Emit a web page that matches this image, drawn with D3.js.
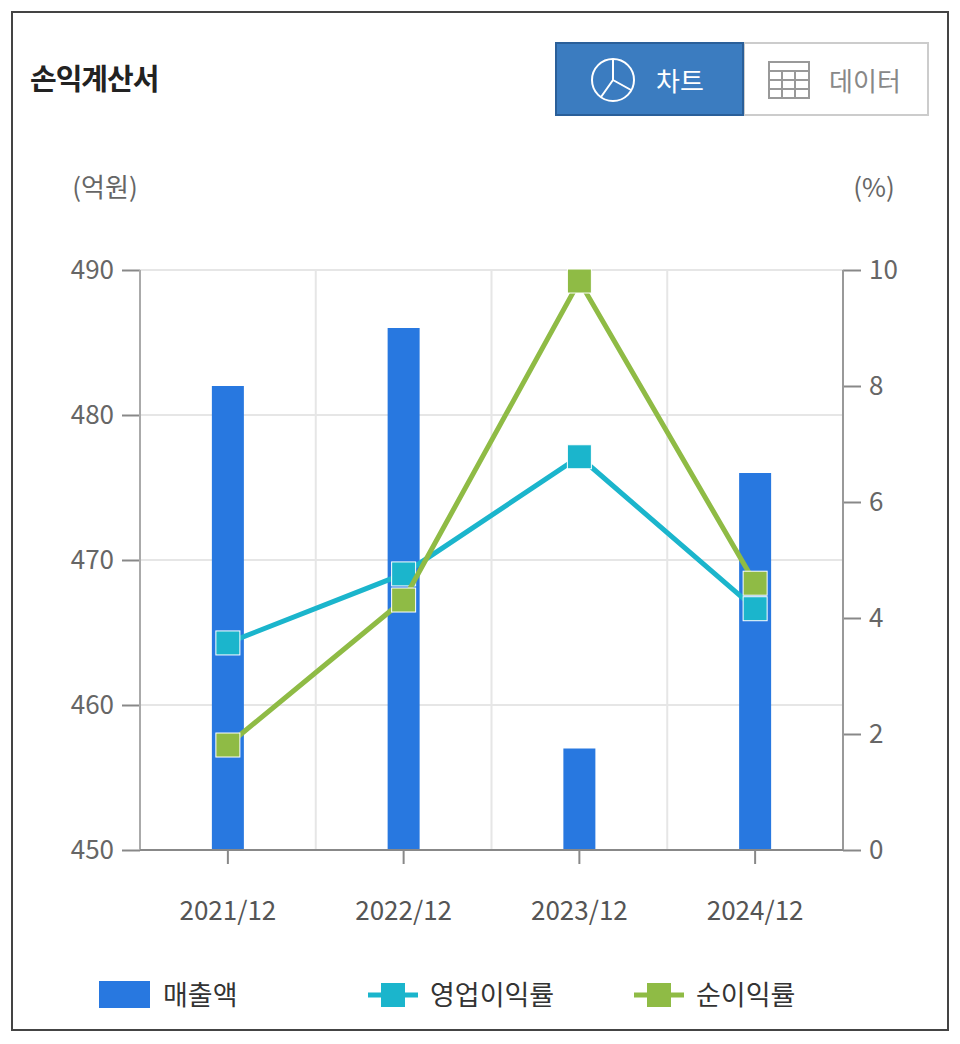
<!DOCTYPE html><html><head><meta charset="utf-8"><script src="https://cdn.jsdelivr.net/npm/d3@7"></script>
<style>body{margin:0;background:#fff;font-family:"Noto Sans CJK KR","Noto Sans",sans-serif}</style></head><body>
<svg id="c" width="960" height="1044"></svg>
<script>
const categories=["2021/12","2022/12","2023/12","2024/12"];
const sales=[482,486,457,476];
const opMargin=[3.57,4.76,6.78,4.16];
const netMargin=[1.81,4.31,9.81,4.60];
const leftTicks=[450,460,470,480,490];
const rightTicks=[0,2,4,6,8,10];
const svg=d3.select("#c");
const F='"Noto Sans CJK KR","Noto Sans",sans-serif';
svg.append("rect").attr("x",12).attr("y",12).attr("width",936).attr("height",1018).attr("fill","#fff").attr("stroke","#444").attr("stroke-width",2);
svg.append("text").attr("x",30).attr("y",90).text("손익계산서").attr("font-size",29).attr("font-weight","bold").attr("fill","#222").attr("font-family",F).attr("letter-spacing",-1);
// buttons
svg.append("rect").attr("x",744).attr("y",43).attr("width",184).attr("height",72).attr("fill","#fff").attr("stroke","#ccc").attr("stroke-width",2);
svg.append("rect").attr("x",556).attr("y",43).attr("width",187).attr("height",72).attr("fill","#3b7cc0").attr("stroke","#2a5f99").attr("stroke-width",2);
svg.append("circle").attr("cx",613).attr("cy",80).attr("r",21).attr("fill","none").attr("stroke","#fff").attr("stroke-width",2);
svg.append("path").attr("d","M613,80 L613,59 M613,80 L631,90 M613,80 L601,97").attr("stroke","#fff").attr("stroke-width",2);
svg.append("text").attr("x",680).attr("y",91).attr("text-anchor","middle").text("차트").attr("font-size",26).attr("fill","#fff").attr("font-family",F);
const g0=svg.append("g").attr("stroke","#999").attr("stroke-width",2).attr("fill","none");
g0.append("rect").attr("x",769).attr("y",62).attr("width",40).attr("height",36);
[71,80,89].forEach(y=>g0.append("line").attr("x1",769).attr("x2",809).attr("y1",y).attr("y2",y));
[782,795].forEach(x=>g0.append("line").attr("x1",x).attr("x2",x).attr("y1",71).attr("y2",98));
svg.append("text").attr("x",865).attr("y",91).attr("text-anchor","middle").text("데이터").attr("font-size",26).attr("fill","#888").attr("font-family",F);
// scales
const L=140,R=843,T=270,B=850;
const x=d3.scaleBand().domain(categories).range([L,R]);
const yl=d3.scaleLinear().domain([450,490]).range([B,T]);
const yr=d3.scaleLinear().domain([0,10]).range([B,T]);
const grid=svg.append("g").attr("stroke","#e6e6e6").attr("stroke-width",2);
leftTicks.forEach(t=>grid.append("line").attr("x1",L).attr("x2",R).attr("y1",yl(t)).attr("y2",yl(t)));
categories.forEach(c=>grid.append("line").attr("x1",x(c)).attr("x2",x(c)).attr("y1",T).attr("y2",B));
grid.append("line").attr("x1",R).attr("x2",R).attr("y1",T).attr("y2",B);
svg.append("g").attr("transform",`translate(${L},0)`).call(d3.axisLeft(yl).tickValues(leftTicks).tickSize(18).tickPadding(8))
 .call(g=>{g.select(".domain").remove();g.selectAll("line").attr("stroke","#888").attr("stroke-width",2);g.selectAll("text").attr("font-size",26).attr("fill","#666").attr("font-family",F);});
svg.append("g").attr("transform",`translate(${R},0)`).call(d3.axisRight(yr).tickValues(rightTicks).tickSize(18).tickPadding(8))
 .call(g=>{g.select(".domain").remove();g.selectAll("line").attr("stroke","#888").attr("stroke-width",2);g.selectAll("text").attr("font-size",26).attr("fill","#666").attr("font-family",F);});
svg.append("line").attr("x1",L).attr("x2",L).attr("y1",T).attr("y2",B).attr("stroke","#aaa").attr("stroke-width",2);
svg.append("line").attr("x1",R).attr("x2",R).attr("y1",T).attr("y2",B).attr("stroke","#999").attr("stroke-width",2);
svg.append("text").attr("x",105).attr("y",197).attr("text-anchor","middle").text("(억원)").attr("font-size",26).attr("fill","#666").attr("font-family",F);
svg.append("text").attr("x",874).attr("y",197).attr("text-anchor","middle").text("(%)").attr("font-size",26).attr("fill","#666").attr("font-family",F);
// bars
const cx=c=>x(c)+x.bandwidth()/2;
svg.append("g").selectAll("rect").data(sales).join("rect").attr("x",(d,i)=>cx(categories[i])-16).attr("width",32)
 .attr("y",d=>yl(d)).attr("height",d=>B-yl(d)).attr("fill","#2878e0");
// x axis
svg.append("line").attr("x1",L).attr("x2",R).attr("y1",B).attr("y2",B).attr("stroke","#888").attr("stroke-width",2);
categories.forEach(c=>{svg.append("line").attr("x1",cx(c)).attr("x2",cx(c)).attr("y1",B).attr("y2",B+14).attr("stroke","#888").attr("stroke-width",2);
 svg.append("text").attr("x",cx(c)).attr("y",920).attr("text-anchor","middle").text(c).attr("font-size",26).attr("fill","#555").attr("font-family",F);});
function series(vals,col){
 svg.append("path").datum(vals).attr("d",d3.line().x((d,i)=>cx(categories[i])).y(d=>yr(d))).attr("fill","none").attr("stroke",col).attr("stroke-width",5);
 svg.append("g").selectAll("rect").data(vals).join("rect").attr("x",(d,i)=>cx(categories[i])-12).attr("y",d=>yr(d)-12).attr("width",24).attr("height",24).attr("fill",col).attr("stroke","#fff").attr("stroke-width",1);
}
series(opMargin,"#1bb5cc");
series(netMargin,"#8fbb45");
// legend
svg.append("rect").attr("x",99).attr("y",981).attr("width",51).attr("height",27).attr("fill","#2878e0");
svg.append("text").attr("x",163).attr("y",1005).text("매출액").attr("font-size",27).attr("fill","#333").attr("font-family",F);
[[368,"영업이익률","#1bb5cc"],[634,"순이익률","#8fbb45"]].forEach(([lx,t,c])=>{
 svg.append("line").attr("x1",lx).attr("x2",lx+50).attr("y1",995).attr("y2",995).attr("stroke",c).attr("stroke-width",5);
 svg.append("rect").attr("x",lx+13).attr("y",983).attr("width",24).attr("height",24).attr("fill",c);
 svg.append("text").attr("x",lx+62).attr("y",1005).text(t).attr("font-size",27).attr("fill","#333").attr("font-family",F);});
</script></body></html>
